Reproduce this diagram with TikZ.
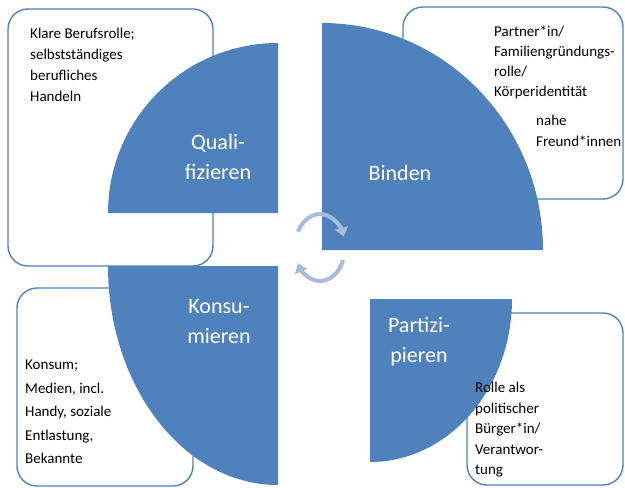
\documentclass[tikz,border=0pt]{standalone}
\usepackage{fontspec}
\setmainfont{Carlito}
\usetikzlibrary{arrows.meta}
\definecolor{accent}{RGB}{79,129,189}
\definecolor{arrowc}{RGB}{167,187,218}
\begin{document}
\begin{tikzpicture}[x=1pt,y=-1pt,
  box/.style={draw=accent, line width=1.4pt, rounded corners=20pt, fill=white},
  quarter/.style={fill=accent},
  lab/.style={text=white, font=\fontsize{22}{30}\selectfont, align=center, inner sep=0pt},
  desc/.style={text=black, align=left, inner sep=0pt, anchor=north west},
  cyc/.style={draw=arrowc, line width=4pt, -{Triangle[width=13pt,length=9pt]}}]
\useasboundingbox (0,0) rectangle (625,488);
% boxes
\draw[box] (8,9) rectangle (213,266);
\draw[box] (403,7) rectangle (623,199);
\draw[box] (17,288) rectangle (193,486);
\draw[box] (467,313) rectangle (623,485);
% quarters
\fill[quarter] (278,213) -- (108,213) arc[start angle=180,end angle=270,x radius=170,y radius=170] -- cycle;
\fill[quarter] (322,250) -- (322,23) arc[start angle=270,end angle=360,x radius=221,y radius=227] -- cycle;
\fill[quarter] (278,266) -- (278,485) arc[start angle=90,end angle=180,x radius=170,y radius=219] -- cycle;
\fill[quarter] (370,299) -- (512,299) arc[start angle=0,end angle=90,x radius=142,y radius=163] -- cycle;
% cycle arrows
\coordinate (cc) at (320,247.5);
\draw[cyc] (cc) ++(208:25 and 33.5) arc[start angle=208,end angle=341,x radius=25,y radius=33.5];
\draw[cyc] (cc) ++(22:25 and 33.5) arc[start angle=22,end angle=152,x radius=25,y radius=33.5];
% labels
\node[lab, anchor=north] (qual) at (218,134) {Quali-\\fizieren};
\node[lab, anchor=base] (bind) at (400,180) {Binden};
\node[lab, anchor=north] (kons) at (219,299) {Konsu-\\mieren};
\node[lab, anchor=north] (part) at (419,317) {Partizi-\\pieren};
% descriptions
\node[desc, font=\fontsize{15}{20.8}\selectfont] (tl) at (30,28) {Klare Berufsrolle;\\selbstständiges\\berufliches\\Handeln};
\node[desc, font=\fontsize{15}{20}\selectfont] (tr) at (494,26) {Partner*in/\\Familiengründungs-\\rolle/\\Körperidentität};
\node[desc, font=\fontsize{15}{21}\selectfont] (tr2) at (536,115) {nahe\\Freund*innen};
\node[desc, font=\fontsize{15}{23.5}\selectfont] (bl) at (25,360) {Konsum;\\Medien, incl.\\Handy, soziale\\Entlastung,\\Bekannte};
\node[desc, font=\fontsize{15}{20.5}\selectfont] (br) at (475,382) {Rolle als\\politischer\\Bürger*in/\\Verantwor-\\tung};
\end{tikzpicture}
\end{document}
